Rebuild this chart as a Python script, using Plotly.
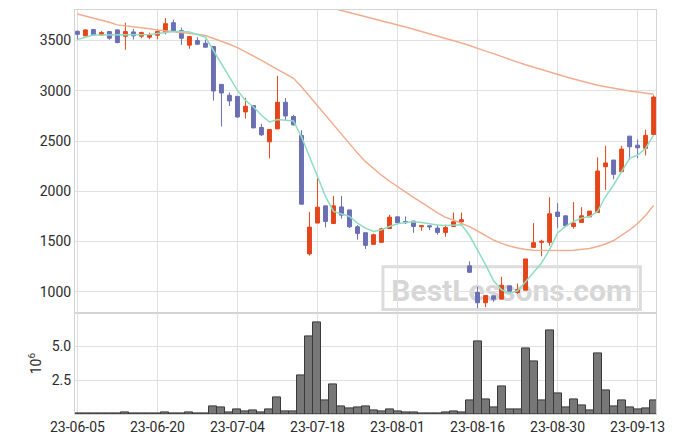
import plotly.graph_objects as go
from plotly.subplots import make_subplots

dates = ["23-06-05", "23-06-07", "23-06-08", "23-06-09", "23-06-12", "23-06-13", "23-06-14", "23-06-15",
         "23-06-16", "23-06-19", "23-06-20", "23-06-21", "23-06-22", "23-06-23", "23-06-26", "23-06-27",
         "23-06-28", "23-06-29", "23-06-30", "23-07-03", "23-07-04", "23-07-05", "23-07-06", "23-07-07",
         "23-07-10", "23-07-11", "23-07-12", "23-07-13", "23-07-14", "23-07-17", "23-07-18", "23-07-19",
         "23-07-20", "23-07-21", "23-07-24", "23-07-25", "23-07-26", "23-07-27", "23-07-28", "23-07-31",
         "23-08-01", "23-08-02", "23-08-03", "23-08-04", "23-08-07", "23-08-08", "23-08-09", "23-08-10",
         "23-08-11", "23-08-14", "23-08-16", "23-08-17", "23-08-18", "23-08-21", "23-08-22", "23-08-23",
         "23-08-24", "23-08-25", "23-08-28", "23-08-29", "23-08-30", "23-08-31", "23-09-01", "23-09-04",
         "23-09-05", "23-09-06", "23-09-07", "23-09-08", "23-09-11", "23-09-12", "23-09-13", "23-09-14",
         "23-09-15"]

open_ = [3592, 3547, 3609, 3556, 3589, 3606, 3543, 3586, 3543, 3533, 3553, 3579, 3678, 3599, 3454, 3500,
         3473, 3441, 3064, 2955, 2945, 2790, 2853, 2635, 2492, 2621, 2886, 2744, 2556, 1377, 1684, 1855,
         1680, 1845, 1815, 1647, 1588, 1472, 1492, 1630, 1746, 1700, 1704, 1647, 1657, 1634, 1591, 1650,
         1697, 1258, 993, 891, 960, 927, 1059, 993, 1016, 1442, 1492, 1492, 1793, 1756, 1650, 1690,
         1746, 1789, 2245, 2311, 2195, 2549, 2459, 2427, 2565]
high = [3600, 3612, 3616, 3596, 3592, 3610, 3678, 3616, 3589, 3579, 3612, 3725, 3708, 3629, 3540, 3533,
        3510, 3441, 3064, 2984, 2945, 2929, 2853, 2671, 2615, 3149, 2929, 2760, 2608, 1793, 2130, 1855,
        1954, 1954, 1815, 1664, 1588, 1578, 1637, 1766, 1746, 1749, 1704, 1657, 1657, 1664, 1667, 1789,
        1789, 1303, 1050, 963, 960, 1149, 1059, 1082, 1327, 1684, 1518, 1941, 1882, 1756, 1892, 1842,
        1803, 2338, 2453, 2311, 2453, 2549, 2516, 2615, 2955]
low = [3510, 3540, 3553, 3553, 3507, 3473, 3408, 3510, 3523, 3513, 3513, 3562, 3590, 3457, 3418, 3460,
       3430, 2902, 2645, 2849, 2730, 2724, 2628, 2549, 2328, 2621, 2707, 2655, 1872, 1360, 1684, 1640,
       1680, 1729, 1634, 1518, 1426, 1472, 1492, 1630, 1680, 1674, 1588, 1607, 1614, 1568, 1548, 1650,
       1687, 1194, 837, 847, 901, 927, 1006, 980, 1016, 1442, 1353, 1459, 1634, 1657, 1627, 1690,
       1746, 1789, 2014, 2120, 2195, 2311, 2328, 2357, 2565]
close = [3562, 3606, 3556, 3579, 3523, 3480, 3589, 3547, 3579, 3556, 3589, 3668, 3592, 3523, 3540, 3463,
         3434, 2998, 2978, 2899, 2740, 2846, 2631, 2562, 2615, 2886, 2750, 2661, 1872, 1644, 1842, 1700,
         1855, 1763, 1647, 1581, 1462, 1568, 1627, 1743, 1687, 1687, 1650, 1657, 1647, 1591, 1640, 1697,
         1717, 1194, 891, 963, 927, 1065, 1006, 1023, 1327, 1489, 1502, 1776, 1749, 1657, 1684, 1756,
         1803, 2202, 2282, 2169, 2420, 2443, 2433, 2556, 2938]

ma_short = [3510, 3535, 3556, 3556, 3556, 3556, 3556, 3556, 3556, 3560, 3570, 3580, 3589, 3589, 3585, 3560,
            3533, 3401, 3269, 3137, 3004, 2905, 2839, 2757, 2690, 2714, 2707, 2700, 2542, 2344, 2130, 1950,
            1800, 1776, 1749, 1684, 1634, 1600, 1617, 1650, 1677, 1690, 1697, 1690, 1677, 1664, 1660, 1664,
            1667, 1560, 1420, 1270, 1110, 1020, 985, 1010, 1100, 1188, 1287, 1419, 1585, 1650, 1700, 1733,
            1749, 1799, 1948, 2063, 2195, 2328, 2361, 2427, 2559]
ma_mid = [3765, 3745, 3725, 3705, 3682, 3656, 3648, 3638, 3628, 3617, 3606, 3598, 3590, 3580, 3570, 3562,
          3550, 3523, 3497, 3463, 3430, 3390, 3348, 3303, 3258, 3215, 3170, 3125, 3040, 2945, 2856, 2760,
          2665, 2570, 2475, 2380, 2295, 2225, 2160, 2100, 2045, 1993, 1940, 1890, 1835, 1785, 1740, 1715,
          1680, 1648, 1605, 1560, 1515, 1482, 1455, 1436, 1420, 1414, 1412, 1412, 1412, 1412, 1414, 1420,
          1430, 1450, 1475, 1510, 1560, 1615, 1680, 1760, 1860]
ma_long = [None] * 31 + [3840, 3820, 3800, 3780, 3760, 3742, 3720, 3700, 3680, 3659, 3635, 3612, 3590,
                         3566, 3545, 3522, 3500, 3475, 3450, 3420, 3395, 3370, 3340, 3315, 3285, 3260,
                         3235, 3210, 3185, 3163, 3140, 3118, 3095, 3073, 3055, 3040, 3025, 3010, 2998,
                         2988, 2975, 2965]

volume_m = [0.07, 0.07, 0.01, 0.01, 0.01, 0.05, 0.15, 0.05, 0.01, 0.04, 0.04, 0.15, 0.05, 0.05, 0.15, 0.06,
            0.01, 0.59, 0.51, 0.15, 0.37, 0.22, 0.29, 0.15, 0.37, 1.25, 0.2, 0.2, 2.84, 5.71, 6.74, 1.03,
            2.2, 0.59, 0.44, 0.51, 0.59, 0.29, 0.2, 0.37, 0.2, 0.15, 0.15, 0.07, 0.07, 0.07, 0.15, 0.22,
            0.15, 1.03, 5.34, 1.1, 0.51, 2.06, 0.37, 0.37, 4.85, 3.9, 1.03, 6.18, 1.54, 0.51, 1.1, 0.66,
            0.29, 4.49, 1.76, 0.59, 1.03, 0.51, 0.37, 0.44, 1.03]

x_ticks = ["23-06-05", "23-06-20", "23-07-04", "23-07-18", "23-08-01", "23-08-16", "23-08-30", "23-09-13"]
price_ticks = [1000, 1500, 2000, 2500, 3000, 3500]
vol_ticks = [2.5, 5.0]
vol_ticktext = ["2.5", "5.0"]

RED = "#e4461a"
BLUE = "#6b6fb3"
GREEN = "#8fdcc4"
SALMON = "#f2ad8f"
GRID = "#e0e0e0"
AXLINE = "#d4d4d4"

fig = make_subplots(rows=2, cols=1, shared_xaxes=True, vertical_spacing=0,
                    row_heights=[0.751, 0.249])

fig.add_trace(go.Candlestick(
    x=dates, open=open_, high=high, low=low, close=close,
    increasing=dict(line=dict(color=RED, width=1), fillcolor=RED),
    decreasing=dict(line=dict(color=BLUE, width=1), fillcolor=BLUE),
    whiskerwidth=0, name="price"), row=1, col=1)
fig.add_trace(go.Scatter(x=dates, y=ma_long, mode="lines",
                         line=dict(color=SALMON, width=1.5), connectgaps=False), row=1, col=1)
fig.add_trace(go.Scatter(x=dates, y=ma_mid, mode="lines",
                         line=dict(color=SALMON, width=1.5)), row=1, col=1)
fig.add_trace(go.Scatter(x=dates, y=ma_short, mode="lines",
                         line=dict(color=GREEN, width=1.5)), row=1, col=1)
fig.add_trace(go.Bar(x=dates, y=volume_m,
                     marker=dict(color="#777777", line=dict(color="#3a3a3a", width=1))),
              row=2, col=1)

fig.update_layout(
    width=675, height=444,
    margin=dict(l=75, r=19, t=9, b=29),
    showlegend=False,
    plot_bgcolor="white", paper_bgcolor="white",
    bargap=0,
    font=dict(family="Roboto", size=14, color="#2b2b2b"),
)
fig.update_xaxes(type="category", range=[-0.3, 72.3], tickmode="array", tickvals=x_ticks,
                 showgrid=True, gridcolor=GRID, showline=True, linecolor=AXLINE, mirror=True,
                 rangeslider_visible=False, ticks="")
fig.update_xaxes(showticklabels=False, row=1, col=1)
fig.update_yaxes(range=[785, 3804], tickvals=price_ticks, showgrid=True, gridcolor=GRID,
                 showline=True, linecolor=AXLINE, mirror=True, zeroline=False,
                 ticks="", row=1, col=1)
fig.update_yaxes(range=[0, 7.43], tickvals=vol_ticks, ticktext=vol_ticktext, showgrid=True,
                 gridcolor=GRID, showline=True, linecolor=AXLINE, mirror=True, zeroline=False,
                 ticks="",
                 title=dict(text="10<sup>6</sup>", standoff=6, font=dict(size=14)), row=2, col=1)

fig.add_shape(type="rect", xref="x domain", yref="y domain", x0=0.530, x1=0.973, y0=0.013, y1=0.154,
              layer="below", line=dict(color="#dcdcdc", width=3), fillcolor="rgba(0,0,0,0)",
              label=dict(text="BestLessons.com", textposition="middle center",
                         font=dict(family="Roboto", size=30, color="#d6d6d6", weight="bold")))

fig.write_html("out.html", config={"displayModeBar": False},
               post_script="document.body.style.margin='0';document.body.style.padding='0';")
